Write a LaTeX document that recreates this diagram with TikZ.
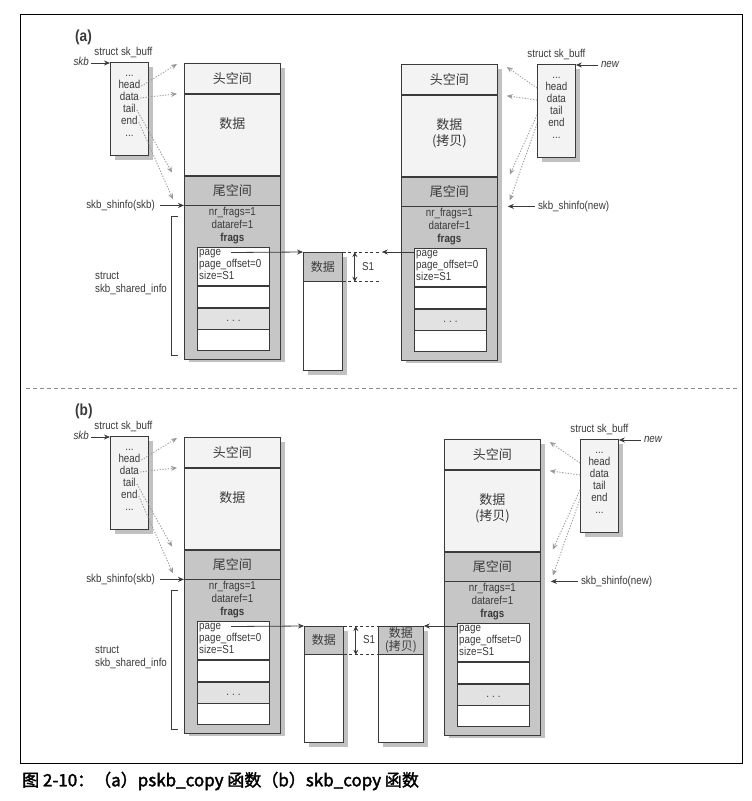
\documentclass[tikz,border=0pt]{standalone}
\usepackage{fontspec}
\setmainfont{Liberation Sans}[FakeStretch=0.85]
\newfontfamily\cjk{Noto Sans CJK SC}
\newfontfamily\capfont{Noto Sans CJK SC}[FakeBold=2]
\usetikzlibrary{arrows.meta,shadows}
\definecolor{ink}{HTML}{3A3A3A}
\definecolor{lite}{HTML}{F3F3F3}
\definecolor{mid}{HTML}{C6C6C6}
\definecolor{rowg}{HTML}{E2E2E2}
\definecolor{dotc}{HTML}{9A9A9A}
\tikzset{
 txt/.style={text=ink, inner sep=0pt, font=\fontsize{11.5}{13}\selectfont, text height=8pt, text depth=2.5pt},
 mtxt/.style={text=ink, inner sep=0pt, font=\fontsize{11.5}{13}\selectfont, align=left},
 cj/.style={text=ink, inner sep=0pt, font=\cjk\fontsize{13}{16}\selectfont, align=center},
 cjs/.style={text=ink, inner sep=0pt, font=\cjk\fontsize{12}{13}\selectfont, align=center},
 shadowed/.style={drop shadow={shadow xshift=5pt, shadow yshift=-5pt, fill=black!40, opacity=0.6}},
 bufbox/.style={draw=ink, line width=0.8pt, fill=lite, inner sep=0pt, minimum width=38pt, minimum height=93pt, anchor=north west, shadowed},
 mainbox/.style={draw=ink, line width=0.8pt, fill=mid, inner sep=0pt, minimum width=96pt, minimum height=294pt, anchor=north west, shadowed},
 sec/.style={draw=ink, line width=0.8pt, inner sep=0pt, minimum width=96pt, anchor=north west, cj},
 fragrow/.style={draw=ink, line width=0.8pt, inner sep=0pt, minimum width=72pt, anchor=north west},
 pagebox/.style={draw=ink, line width=0.8pt, fill=white, inner sep=0pt, anchor=north west, shadowed},
 pagetop/.style={draw=ink, line width=0.8pt, fill=mid, inner sep=0pt, anchor=north west},
 ptr/.style={draw=ink, line width=0.8pt, -{Stealth[length=6pt,width=5pt]}},
 dptr/.style={draw=dotc, line width=0.9pt, dash pattern=on 1.2pt off 1.6pt, -{Stealth[length=6pt,width=5pt]}},
 dimline/.style={draw=ink, line width=0.7pt, dash pattern=on 3pt off 2.5pt},
 dimarrow/.style={draw=ink, line width=0.8pt, {Stealth[length=5pt,width=5pt]}-{Stealth[length=5pt,width=5pt]}},
}
% sk_buff structure box
\newcommand\mkBuf[3]{%
 \node[bufbox] (#1) at ({#2},{#3}) {};
 \node[txt] (#1d1) at ([yshift=-12pt]#1.north) {...};
 \node[txt] (#1head) at ([yshift=-24pt]#1.north) {head};
 \node[txt] (#1data) at ([yshift=-36pt]#1.north) {data};
 \node[txt] (#1tail) at ([yshift=-48pt]#1.north) {tail};
 \node[txt] (#1end) at ([yshift=-60pt]#1.north) {end};
 \node[txt] (#1d2) at ([yshift=-72pt]#1.north) {...};
}
% data buffer with shared info
\newcommand\mkMain[4]{%
 \node[mainbox] (#1) at ({#2},{#3}) {};
 \node[sec, fill=lite, minimum height=30pt] (#1h) at ({#2},{#3}) {头空间};
 \node[sec, fill=lite, minimum height=81pt] (#1d) at (#1h.south west) {};
 \node[cj, anchor=north] (#1dt) at ([yshift=-24pt]#1d.north) {#4};
 \node[sec, fill=mid, minimum height=29pt] (#1t) at (#1d.south west) {尾空间};
 \node[sec, fill=mid, minimum height=154pt] (#1s) at (#1t.south west) {};
 \node[txt] (#1nf) at ([yshift=-150pt]#1.north) {nr\_frags=1};
 \node[txt] (#1dr) at ([yshift=-163pt]#1.north) {dataref=1};
 \node[txt, font=\fontsize{11.5}{13}\selectfont\bfseries] (#1fr) at ([yshift=-176pt]#1.north) {frags};
 \node[fragrow, fill=white, minimum height=38pt] (#1r1) at ([xshift=13pt,yshift=-184pt]#1.north west) {};
 \node[fragrow, fill=white, minimum height=21pt] (#1r2) at (#1r1.south west) {};
 \node[fragrow, fill=rowg, minimum height=21pt, txt] (#1r3) at (#1r2.south west) {.\hspace{3pt}.\hspace{3pt}.};
 \node[fragrow, fill=white, minimum height=21pt] (#1r4) at (#1r3.south west) {};
 \node[txt, anchor=west] (#1page) at ([xshift=2pt,yshift=-5.5pt]#1r1.north west) {page};
 \node[txt, anchor=west] (#1po) at ([xshift=2pt,yshift=-17.5pt]#1r1.north west) {page\_offset=0};
 \node[txt, anchor=west] (#1sz) at ([xshift=2pt,yshift=-30pt]#1r1.north west) {size=S1};
}
\newcommand\leftGroup[2]{%
 \mkMain{#1A}{184}{63+#2}{数据}
 \mkBuf{#1L}{110}{62+#2}
 \node[txt, anchor=south] (#1Lst) at ([xshift=-6pt,yshift=4pt]#1L.north) {struct sk\_buff};
 \node[txt, anchor=east, font=\fontsize{11.5}{13}\selectfont\itshape] (#1skb) at ([xshift=-21pt,yshift=-1pt]#1L.north west) {skb};
 \draw[ptr] ([xshift=2pt]#1skb.east) -- (#1skb.east -| #1L.west);
 \draw[dptr] ([xshift=1pt]#1Lhead.east) -- ([xshift=-7pt,yshift=-1pt]#1Ah.north west);
 \draw[dptr] ([xshift=1pt]#1Ldata.east) -- ([xshift=-7pt]#1Ad.north west);
 \draw[dptr] ([xshift=1pt]#1Ltail.east) -- ([xshift=-12pt,yshift=3pt]#1At.north west);
 \draw[dptr] ([xshift=1pt]#1Lend.east) -- ([xshift=-11pt,yshift=6pt]#1As.north west);
 \node[txt, anchor=east] (#1Lsh) at ([xshift=-29pt]#1As.north west) {skb\_shinfo(skb)};
 \draw[ptr] ([xshift=5pt]#1Lsh.east) -- (#1As.north west);
 \coordinate (#1bt) at ([xshift=-6pt,yshift=-11pt]#1As.north west);
 \coordinate (#1bb) at ([xshift=-6pt,yshift=2pt]#1A.south west);
 \draw[draw=ink, line width=0.8pt] (#1bt) -- ++(-7,0) |- (#1bb);
 \node[mtxt, anchor=west] (#1Lss) at (95,{283+#2}) {struct\\skb\_shared\_info};
}
\newcommand\rightGroup[3]{%
 \mkMain{#1B}{401+#2}{64+#3}{数据\\(拷贝)}
 \mkBuf{#1R}{537+#2}{64+#3}
 \node[txt, anchor=south] (#1Rst) at ([yshift=4pt]#1R.north) {struct sk\_buff};
 \node[txt, anchor=west, font=\fontsize{11.5}{13}\selectfont\itshape] (#1new) at ([xshift=25pt,yshift=-1pt]#1R.north east) {new};
 \draw[ptr] ([xshift=-3pt]#1new.west) -- (#1new.west -| #1R.east);
 \draw[dptr] (#1R.west |- #1Rhead) -- ([xshift=9pt,yshift=-3pt]#1Bh.north east);
 \draw[dptr] (#1R.west |- #1Rdata) -- ([xshift=9pt,yshift=-1pt]#1Bd.north east);
 \draw[dptr] ([yshift=-3pt]#1R.west |- #1Rtail) -- ([xshift=12pt,yshift=2pt]#1Bt.north east);
 \draw[dptr] (#1R.west |- #1Rend) -- ([xshift=12pt,yshift=6pt]#1Bs.north east);
 \node[txt, anchor=west] (#1Rsh) at ([xshift=40pt]#1Bs.north east) {skb\_shinfo(new)};
 \draw[ptr] ([xshift=-3pt]#1Rsh.west) -- ([xshift=10pt]#1Bs.north east);
}
\begin{document}
\begin{tikzpicture}[x=1pt,y=-1pt]
\useasboundingbox (0,0) rectangle (752,801);
\fill[white] (0,0) rectangle (752,801);
\draw[line width=0.9pt, black] (20,14) rectangle (742,763);
\draw[draw=black!45, line width=0.9pt, dash pattern=on 4pt off 3pt] (26,388) -- (738,388);
\node[anchor=west, inner sep=0pt, text=ink, font=\fontsize{16}{18}\selectfont\bfseries] (lbla) at (75,37) {(a)};
\node[anchor=west, inner sep=0pt, text=ink, font=\fontsize{16}{18}\selectfont\bfseries] (lblb) at (75,411) {(b)};
% ---------- part (a)
\leftGroup{a}{0}
\rightGroup{a}{0}{0}
\node[pagebox, minimum width=39pt, minimum height=118pt] (aP) at (303,252) {};
\node[pagetop, minimum width=39pt, minimum height=29pt, cjs] (aPt) at (303,252) {数据};
\draw[ptr] ([xshift=10pt]aApage.east) -- (aP.north west);
\coordinate (aq1) at ([xshift=36pt]aP.north east);
\draw[dimline] (aP.north east) -- (aq1);
\draw[dimline] (aPt.south east) -- (aPt.south east -| aq1);
\draw[dimarrow] ([xshift=12pt]aP.north east) -- ([xshift=12pt]aPt.south east);
\node[txt, anchor=west] (aS1) at ([xshift=19pt,yshift=14pt]aPt.south east) {S1};
\draw[ptr] (aBr1.west |- aq1) -- ([xshift=3pt]aq1);
% ---------- part (b)
\leftGroup{b}{374}
\rightGroup{b}{43}{375}
\node[pagebox, minimum width=39pt, minimum height=116pt] (bP) at (304,626) {};
\node[pagetop, minimum width=39pt, minimum height=28pt, cjs] (bPt) at (304,626) {数据};
\node[pagebox, minimum width=45pt, minimum height=116pt] (bC) at (378,626) {};
\node[pagetop, minimum width=45pt, minimum height=28pt, cjs] (bCt) at (378,626) {数据\\(拷贝)};
\draw[ptr] ([xshift=10pt]bApage.east) -- (bP.north west);
\draw[dimline] (bP.north east) -- (bC.north west);
\draw[dimline] (bPt.south east) -- (bCt.south west);
\draw[dimarrow] ([xshift=12pt]bP.north east) -- ([xshift=12pt]bPt.south east);
\node[txt, anchor=west] (bS1) at ([xshift=19pt,yshift=14pt]bPt.south east) {S1};
\draw[ptr] (bBr1.west |- bC.north east) -- (bC.north east);
% ---------- caption
\node[anchor=west, inner sep=0pt, text=black, font=\capfont\fontsize{17}{19}\selectfont] (cap) at (22,781) {图 2-10：（a）pskb\_copy 函数（b）skb\_copy 函数};
\end{tikzpicture}
\end{document}
